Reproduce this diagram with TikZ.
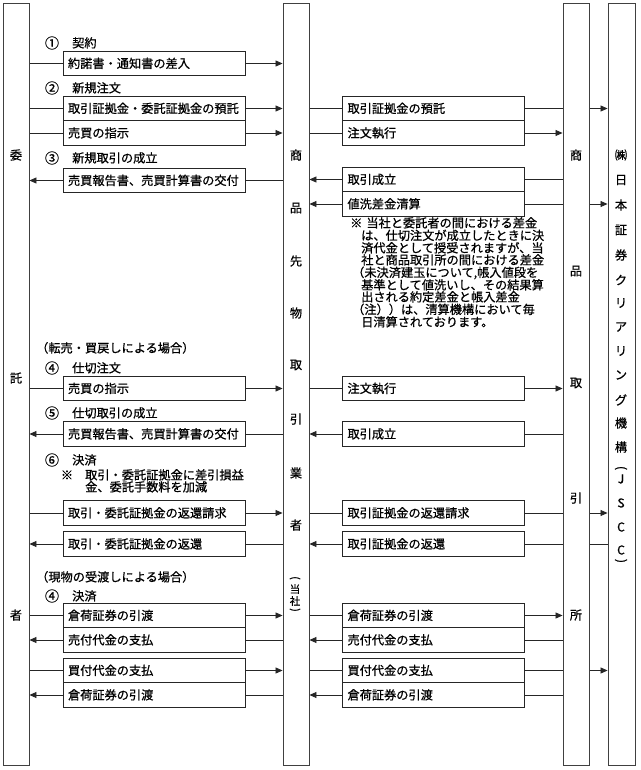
\documentclass[tikz,border=0pt]{standalone}
\usepackage{fontspec}
\setmainfont{Noto Sans CJK JP}[FakeBold=0.7]
\usetikzlibrary{arrows.meta,backgrounds}
\newcommand\jfs{\fontsize{12.2pt}{12.4pt}\selectfont}
\newcommand\jfss{\fontsize{10.5pt}{11pt}\selectfont}
\newcommand\jfcirc{\fontsize{14pt}{14pt}\selectfont}
\begin{document}
\begin{tikzpicture}[x=1pt,y=-1pt,
  bar/.style={draw=black!75, line width=0.9pt, fill=white, minimum width=26pt, minimum height=762pt, inner sep=0pt},
  box/.style={draw=black!85, line width=0.8pt, fill=white, minimum width=182pt, minimum height=24.5pt, text width=172pt, align=left, inner xsep=5pt, inner ysep=0pt, font=\jfs, text height=10pt, text depth=1pt},
  lbl/.style={font=\jfs, inner sep=0pt, text height=10pt, text depth=1pt, anchor=west},
  num/.style={font=\jfcirc, inner sep=0pt},
  vt/.style={font=\jfs, inner sep=0pt},
  flow/.style={draw=black!85, line width=0.8pt, -{Triangle[length=7pt,width=6pt]}},
  flowb/.style={draw=black!85, line width=0.8pt, {Triangle[length=7pt,width=6pt]}-{Triangle[length=7pt,width=6pt]}}]
\useasboundingbox (0,0) rectangle (640,770);

% bars
\node[bar] (L) at (16,384) {};
\node[bar] (M) at (296,384) {};
\node[bar] (R) at (576,384) {};
\node[bar, minimum width=27pt] (J) at (621.5,384) {};

% bar texts
\node[vt] (l1) at (16,155) {委};
\node[vt] (l2) at (16,378) {託};
\node[vt] (l3) at (16,615) {者};

\node[vt] (m1) at (296,155) {商};
\node[vt] (m2) at (296,208) {品};
\node[vt] (m3) at (296,261) {先};
\node[vt] (m4) at (296,313) {物};
\node[vt] (m5) at (296,365) {取};
\node[vt] (m6) at (296,419) {引};
\node[vt] (m7) at (296,473) {業};
\node[vt] (m8) at (296,525) {者};
\node[vt, font=\jfss, rotate=-90] (m9) at (295,578) {(};
\node[vt, font=\jfss] (m10) at (295,589) {当};
\node[vt, font=\jfss] (m11) at (295,601) {社};
\node[vt, font=\jfss, rotate=-90] (m12) at (295,610) {)};

\node[vt] (r1) at (576,155) {商};
\node[vt] (r2) at (576,271) {品};
\node[vt] (r3) at (576,383) {取};
\node[vt] (r4) at (576,498) {引};
\node[vt] (r5) at (576,615) {所};

\node[vt] (j1) at (621,155) {㈱};
\node[vt] (j2) at (621,180) {日};
\node[vt] (j3) at (621,205) {本};
\node[vt] (j4) at (621,230) {証};
\node[vt] (j5) at (621,255) {券};
\node[vt] (j6) at (621,280) {ク};
\node[vt] (j7) at (621,303) {リ};
\node[vt] (j8) at (621,327) {ア};
\node[vt] (j9) at (621,351) {リ};
\node[vt] (j10) at (621,375) {ン};
\node[vt] (j11) at (621,400) {グ};
\node[vt] (j12) at (621,423) {機};
\node[vt] (j13) at (621,447) {構};
\node[vt, rotate=-90] (j14) at (621,468) {(};
\node[vt] (j15) at (621,479) {J};
\node[vt] (j16) at (621,503) {S};
\node[vt] (j17) at (621,527) {C};
\node[vt] (j18) at (621,550) {C};
\node[vt, rotate=-90] (j19) at (621,561) {)};

% left labels
\node[num] (c1) at (52,43) {①};
\node[lbl] (t1) at (72,43) {契約};
\node[num] (c2) at (52,88) {②};
\node[lbl] (t2) at (72,88) {新規注文};
\node[num] (c3) at (52,158) {③};
\node[lbl] (t3) at (72,158) {新規取引の成立};
\node[lbl] (t4) at (36,348) {（転売・買戻しによる場合）};
\node[num] (c4) at (52,368) {④};
\node[lbl] (t5) at (72,368) {仕切注文};
\node[num] (c5) at (52,413) {⑤};
\node[lbl] (t6) at (72,413) {仕切取引の成立};
\node[num] (c6) at (52,460) {⑥};
\node[lbl] (t7) at (72,460) {決済};
\node[vt] (k1) at (67,475) {※};
\node[lbl] (t8) at (85,475) {取引・委託証拠金に差引損益};
\node[lbl] (t9) at (85,487) {金、委託手数料を加減};
\node[lbl] (t10) at (36,577) {（現物の受渡しによる場合）};
\node[num] (c7) at (52,596) {④};
\node[lbl] (t11) at (72,596) {決済};

% note
\node[lbl] (n1) at (350,223) {※\kern4pt 当社と委託者の間における差金};
\node[lbl] (n2) at (361,235.5) {は、仕切注文が成立したときに決};
\node[lbl] (n3) at (361,248) {済代金として授受されますが、当};
\node[lbl] (n4) at (361,260) {社と商品取引所の間における差金};
\node[lbl] (n5) at (352,272.5) {（未決済建玉について,帳入値段を};
\node[lbl] (n6) at (361,285) {基準として値洗いし、その結果算};
\node[lbl] (n7) at (361,297) {出される約定差金と帳入差金};
\node[lbl] (n8) at (352,309.5) {（注））は、清算機構において毎};
\node[lbl] (n9) at (361,322) {日清算されております。};

% left boxes
\node[box] (b1) at (154,63.5) {約諾書・通知書の差入};
\node[box] (b2) at (154,108.5) {取引証拠金・委託証拠金の預託};
\node[box] (b3) at (154,133) {売買の指示};
\node[box] (b4) at (154,180.5) {売買報告書、売買計算書の交付};
\node[box] (b5) at (154,388.5) {売買の指示};
\node[box] (b6) at (154,434) {売買報告書、売買計算書の交付};
\node[box] (b7) at (154,513) {取引・委託証拠金の返還請求};
\node[box] (b8) at (154,544) {取引・委託証拠金の返還};
\node[box] (b9) at (154,615.5) {倉荷証券の引渡};
\node[box] (b10) at (154,640) {売付代金の支払};
\node[box] (b11) at (154,670.5) {買付代金の支払};
\node[box] (b12) at (154,695) {倉荷証券の引渡};

% right boxes
\node[box] (q1) at (433.5,108.5) {取引証拠金の預託};
\node[box] (q2) at (433.5,133) {注文執行};
\node[box] (q3) at (433.5,179.5) {取引成立};
\node[box] (q4) at (433.5,204) {値洗差金清算};
\node[box] (q5) at (433.5,388.5) {注文執行};
\node[box] (q6) at (433.5,434) {取引成立};
\node[box] (q7) at (433.5,513) {取引証拠金の返還請求};
\node[box] (q8) at (433.5,544) {取引証拠金の返還};
\node[box] (q9) at (433.5,615.5) {倉荷証券の引渡};
\node[box] (q10) at (433.5,640) {売付代金の支払};
\node[box] (q11) at (433.5,670.5) {買付代金の支払};
\node[box] (q12) at (433.5,695) {倉荷証券の引渡};

\begin{scope}[on background layer]
\fill[white] (0,0) rectangle (640,770);
% left side
\draw[flow] (L.east |- b1) -- (M.west |- b1);
\draw[flow] (L.east |- b2) -- (M.west |- b2);
\draw[flow] (L.east |- b3) -- (M.west |- b3);
\draw[flow] (M.west |- b4) -- (L.east |- b4);
\draw[flow] (L.east |- b5) -- (M.west |- b5);
\draw[flow] (M.west |- b6) -- (L.east |- b6);
\draw[flow] (L.east |- b7) -- (M.west |- b7);
\draw[flow] (M.west |- b8) -- (L.east |- b8);
\draw[flow] (L.east |- b9) -- (M.west |- b9);
\draw[flow] (M.west |- b10) -- (L.east |- b10);
\draw[flow] (L.east |- b11) -- (M.west |- b11);
\draw[flow] (M.west |- b12) -- (L.east |- b12);
% right side
\draw[flow] (M.east |- q1) -- (J.west |- q1);
\draw[flow] (M.east |- q2) -- (R.west |- q2);
\draw[flow] (R.west |- q3) -- (M.east |- q3);
\draw[flowb] (M.east |- q4) -- (J.west |- q4);
\draw[flow] (M.east |- q5) -- (R.west |- q5);
\draw[flow] (R.west |- q6) -- (M.east |- q6);
\draw[flow] (M.east |- q7) -- (J.west |- q7);
\draw[flow] (J.west |- q8) -- (M.east |- q8);
\draw[flow] (M.east |- q9) -- (R.west |- q9);
\draw[flow] (R.west |- q10) -- (M.east |- q10);
\draw[flow] (M.east |- q11) -- (J.west |- q11);
\draw[flow] (R.west |- q12) -- (M.east |- q12);
\end{scope}
\end{tikzpicture}
\end{document}
